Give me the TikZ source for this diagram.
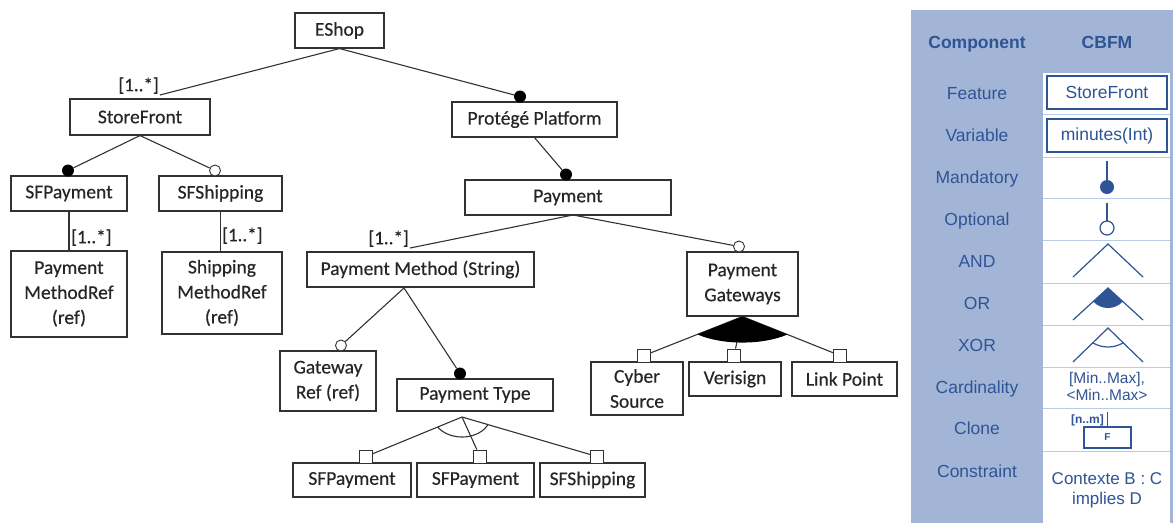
\documentclass[tikz,border=0pt]{standalone}
\usepackage{fontspec}
\setmainfont{Carlito}
\newfontfamily\diagfont[FakeBold=0.35]{Carlito}
\newfontfamily\legendfont{Liberation Sans}

\begin{document}
\begin{tikzpicture}[
    x=1pt, y=-1pt,
    % Estilo de las cajas de características
    feature/.style={
        draw=linegray, line width=1.1pt, fill=white, inner sep=0pt,
        align=center, text=textgray, font=\diagfont\fontsize{19.5}{25}\selectfont
    },
    % Estilo de los conectores
    link/.style={draw=linegray, line width=1.1pt},
    % Marcas: obligatorio, opcional y miembro de grupo
    mandatory/.style={circle, fill=black, minimum size=12pt, inner sep=0pt},
    optional/.style={circle, draw=linegray, line width=0.9pt, fill=white, minimum size=11pt, inner sep=0pt},
    groupsq/.style={draw=linegray, line width=0.9pt, fill=white, minimum size=13pt, inner sep=0pt},
    card/.style={text=textgray, font=\diagfont\fontsize{19}{20}\selectfont, inner sep=1pt},
    % Estilos de la leyenda
    legendtext/.style={text=legendblue, font=\legendfont\fontsize{17.5}{20}\selectfont,
        text height=12.5pt, text depth=0pt, inner sep=0pt},
    legendhead/.style={legendtext, font=\legendfont\bfseries\fontsize{17.5}{20}\selectfont},
    legendbox/.style={draw=legendblue, line width=1.5pt, minimum width=120pt, minimum height=33pt,
        inner sep=0pt, text=legendblue, font=\legendfont\fontsize{17.5}{20}\selectfont},
    legendline/.style={draw=legendblue, line width=1.2pt}
]
    % Configuración de colores
    \definecolor{linegray}{RGB}{50, 50, 50}
    \definecolor{textgray}{RGB}{38, 38, 38}
    \definecolor{panelblue}{RGB}{163, 181, 214}
    \definecolor{sepblue}{RGB}{185, 202, 232}
    \definecolor{legendblue}{RGB}{47, 84, 150}

    % Marco de la imagen
    \useasboundingbox (0,0) rectangle (1173,523);

    % Cajas del modelo
    \node[feature, minimum width=89pt, minimum height=35pt] (eshop) at (339.5,30.5) {EShop};
    \node[feature, minimum width=140pt, minimum height=36pt] (storefront) at (140,117) {StoreFront};
    \node[feature, minimum width=116pt, minimum height=35pt] (sfpay) at (69,193.5) {SFPayment};
    \node[feature, minimum width=123pt, minimum height=35pt] (sfship) at (220.5,193.5) {SFShipping};
    \node[feature, minimum width=116pt, minimum height=86pt] (pmref) at (69,294) {Payment\\MethodRef\\(ref)};
    \node[feature, minimum width=120pt, minimum height=82pt] (smref) at (222,293) {Shipping\\MethodRef\\(ref)};
    \node[feature, minimum width=165pt, minimum height=35pt] (protege) at (534.5,119.5) {Protégé Platform};
    \node[feature, minimum width=206pt, minimum height=35pt] (payment) at (568,197.5) {Payment};
    \node[feature, minimum width=227pt, minimum height=35pt] (pmethod) at (420.5,269.5) {Payment Method (String)};
    \node[feature, minimum width=111pt, minimum height=64pt] (pgate) at (742.5,284) {Payment\\Gateways};
    \node[feature, minimum width=96pt, minimum height=60pt] (gwref) at (328,381) {Gateway\\Ref (ref)};
    \node[feature, minimum width=156pt, minimum height=32pt] (ptype) at (475,395) {Payment Type};
    \node[feature, minimum width=118pt, minimum height=34pt] (sfpay2) at (352,480) {SFPayment};
    \node[feature, minimum width=117pt, minimum height=34pt] (sfpay3) at (475.5,480) {SFPayment};
    \node[feature, minimum width=105pt, minimum height=34pt] (sfship2) at (592.5,480) {SFShipping};
    \node[feature, minimum width=92pt, minimum height=53pt] (cyber) at (637,388.5) {Cyber\\Source};
    \node[feature, minimum width=92pt, minimum height=34pt] (verisign) at (735,379) {Verisign};
    \node[feature, minimum width=105pt, minimum height=34pt] (linkpoint) at (844.5,379) {Link Point};

    % Puntos de unión
    \coordinate (cardsf) at (160,95);
    \coordinate (cardpm) at (410,248);
    \coordinate (payroot) at (573,215);
    \coordinate (pmroot) at (404,288);
    \coordinate (xorapex) at (462,417);

    % Marcas sobre las cajas
    \node[mandatory] (m-protege) at (520,96.5) {};
    \node[mandatory] (m-sfpay) at (68,170.5) {};
    \node[optional] (o-sfship) at (215,170.5) {};
    \node[mandatory] (m-payment) at (566,174.5) {};
    \node[optional] (o-pgate) at (739,246.5) {};
    \node[optional] (o-gwref) at (341,345.5) {};
    \node[mandatory] (m-ptype) at (460,373.5) {};
    \node[groupsq] (sq-sfpay2) at (366,456.5) {};
    \node[groupsq] (sq-sfpay3) at (480,456.5) {};
    \node[groupsq] (sq-sfship2) at (597,456.5) {};
    \node[groupsq] (sq-cyber) at (644,355.5) {};
    \node[groupsq] (sq-veri) at (734,355.5) {};
    \node[groupsq] (sq-link) at (840,355.5) {};

    % Conectores
    \draw[link] (eshop.south) -- (cardsf);
    \draw[link] (eshop.south) -- (m-protege);
    \draw[link] (storefront.south) -- (m-sfpay);
    \draw[link] (storefront.south) -- (o-sfship);
    \draw[link] (sfpay.south) -- (pmref.north);
    \draw[link] (sfship.south) -- (sfship.south |- smref.north);
    \draw[link] (protege.south) -- (m-payment);
    \draw[link] (payroot) -- (cardpm);
    \draw[link] (payroot) -- (o-pgate);
    \draw[link] (pmroot) -- (o-gwref);
    \draw[link] (pmroot) -- (m-ptype);
    \foreach \hijo in {sq-sfpay2, sq-sfpay3, sq-sfship2}
        \draw[link] (xorapex) -- (\hijo);
    \foreach \hijo in {sq-cyber, sq-veri, sq-link}
        \draw[link] (pgate.south) -- (\hijo);

    % Cardinalidades
    \node[card, anchor=south east] (card-sf) at (cardsf) {[1..*]};
    \node[card, anchor=south east] (card-pm) at (cardpm) {[1..*]};
    \node[card, anchor=south west] (card-pmref) at (70,247) {[1..*]};
    \node[card, anchor=south west] (card-smref) at (221,245) {[1..*]};

    % Grupo XOR (arco) y grupo OR (sector relleno)
    \begin{scope}
        \clip (xorapex) -- (sq-sfpay2.center) -- (sq-sfship2.center) -- cycle;
        \draw[link] (xorapex) ellipse (28 and 20);
    \end{scope}
    \begin{scope}
        \clip (pgate.south) -- (sq-cyber.center) -- (sq-link.center) -- cycle;
        \fill[black] (pgate.south) ellipse (62 and 26);
    \end{scope}

    % Leyenda: fondo, columna blanca y separadores
    \fill[panelblue] (911,10) rectangle (1173,523);
    \fill[white] (1043,73) rectangle (1170,523);
    \foreach \y in {114,157,198,240,283,325,367,408,451}
        \draw[sepblue, line width=1pt] (1043,\y) -- (1170,\y);

    % Encabezados
    \node[legendhead] (hcomp) at (977,42) {Component};
    \node[legendhead] (hcbfm) at (1107,42) {CBFM};

    % Nombres de los componentes
    \foreach \i/\y/\txt in {1/93/Feature, 2/135/Variable, 3/177/Mandatory, 4/219/Optional,
        5/261/AND, 6/303/OR, 7/345/XOR, 8/387/Cardinality, 9/428/Clone, 10/471/Constraint}{
        \node[legendtext] (comp\i) at (977,\y) {\txt};
    }

    % Símbolos CBFM
    \node[legendbox] (lfeat) at (1107,92.5) {StoreFront};
    \node[legendbox] (lvar) at (1107,135.5) {minutes(Int)};
    \draw[legendline] (1107,161) -- (1107,187);
    \fill[legendblue] (1107,187) circle (7);
    \draw[legendline] (1107,203) -- (1107,221);
    \draw[legendline, fill=white] (1107,228) circle (7);
    \draw[legendline] (1073,277) -- (1108,244) -- (1143,277);
    \begin{scope}
        \clip (1073,320) -- (1108,288) -- (1143,320) -- cycle;
        \fill[legendblue] (1108,288) circle (20);
    \end{scope}
    \draw[legendline] (1073,320) -- (1108,288) -- (1143,320);
    \begin{scope}
        \clip (1073,362) -- (1108,328) -- (1143,362) -- cycle;
        \draw[legendline] (1108,328) ellipse (24 and 19);
    \end{scope}
    \draw[legendline] (1073,362) -- (1108,328) -- (1143,362);
    \node[text=legendblue, align=center, inner sep=0pt,
        font=\legendfont\fontsize{15.5}{17}\selectfont] (lcard) at (1107,386) {[Min..Max],\\<Min..Max>};
    \node[draw=legendblue, line width=1.1pt, minimum width=47pt, minimum height=21pt, inner sep=0pt,
        text=legendblue, font=\legendfont\bfseries\fontsize{10}{11}\selectfont] (lclone) at (1107.5,437.5) {F};
    \draw[legendline] (lclone.north) -- ++(0,-14);
    \node[text=legendblue, anchor=east, inner sep=0pt,
        font=\legendfont\bfseries\fontsize{12}{13}\selectfont] (lnm) at (1104,420) {[n..m]};
    \node[text=legendblue, align=center, inner sep=0pt,
        font=\legendfont\fontsize{17}{20}\selectfont] (lcons) at (1107,490) {Contexte B : C\\implies D};
\end{tikzpicture}
\end{document}
